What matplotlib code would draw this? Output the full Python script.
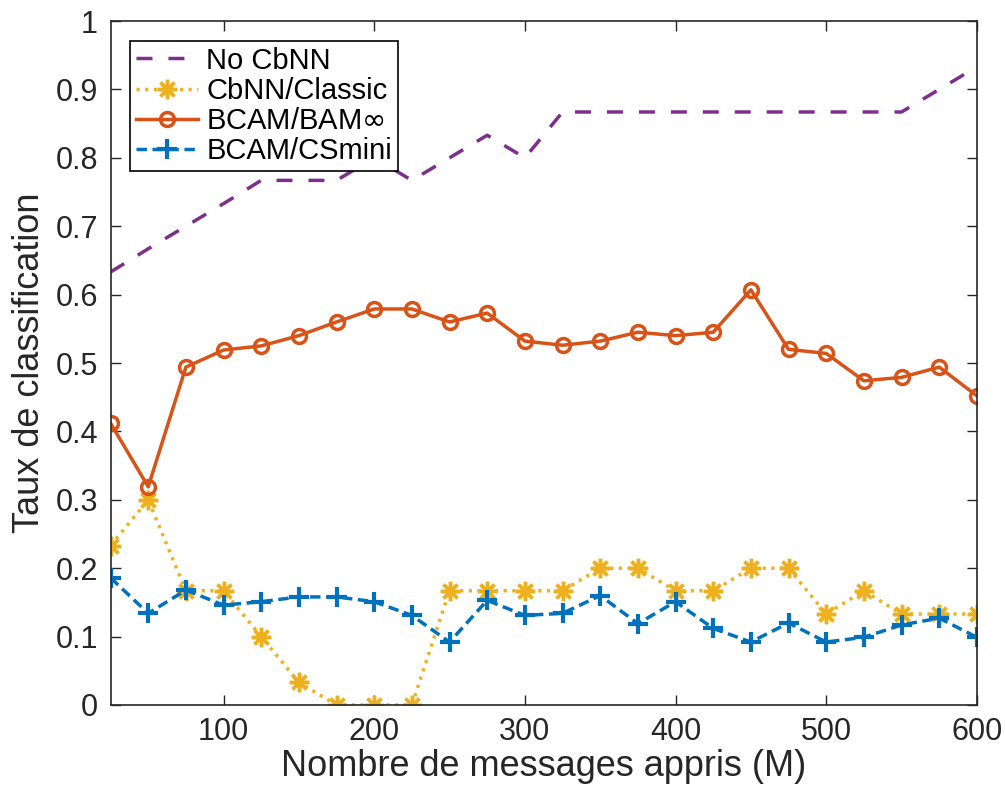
import numpy as np
import matplotlib
matplotlib.use('Agg')
import matplotlib.pyplot as plt

plt.rcParams['font.family'] = ['Liberation Sans', 'DejaVu Sans']
plt.rcParams['mathtext.fontset'] = 'dejavusans'

# data
messages = [25, 50, 75, 100, 125, 150, 175, 200, 225, 250, 275, 300,
            325, 350, 375, 400, 425, 450, 475, 500, 525, 550, 575, 600]
no_cbnn = [0.633, 0.667, 0.700, 0.733, 0.767, 0.767, 0.767, 0.800, 0.767, 0.800, 0.833, 0.800,
           0.867, 0.867, 0.867, 0.867, 0.867, 0.867, 0.867, 0.867, 0.867, 0.867, 0.900, 0.933]
cbnn_classic = [0.233, 0.300, 0.167, 0.167, 0.100, 0.033, 0.0, 0.0, 0.0, 0.167, 0.167, 0.167,
                0.167, 0.200, 0.200, 0.167, 0.167, 0.200, 0.200, 0.133, 0.167, 0.133, 0.133, 0.133]
bcam_bam = [0.412, 0.319, 0.494, 0.519, 0.525, 0.540, 0.560, 0.579, 0.579, 0.560, 0.573, 0.532,
            0.526, 0.532, 0.545, 0.540, 0.545, 0.607, 0.520, 0.514, 0.474, 0.479, 0.494, 0.452]
bcam_csmini = [0.186, 0.134, 0.168, 0.146, 0.151, 0.158, 0.158, 0.151, 0.131, 0.092, 0.153, 0.131,
               0.134, 0.160, 0.119, 0.151, 0.112, 0.092, 0.120, 0.092, 0.099, 0.117, 0.127, 0.099]

labels = ['No CbNN', 'CbNN/Classic', r'BCAM/BAM$\infty$', 'BCAM/CSmini']
colors = ['#7E2F8E', '#EDB120', '#D95319', '#0072BD']
xticks = [100, 200, 300, 400, 500, 600]
yticks = np.arange(0, 1.01, 0.1)
yticklabels = ['0', '0.1', '0.2', '0.3', '0.4', '0.5', '0.6', '0.7', '0.8', '0.9', '1']

fig = plt.figure(figsize=(10.05, 7.9), dpi=100)
ax = fig.add_axes([0.110, 0.1076, 0.862, 0.8658])

lw = 2.5
ax.plot(messages, no_cbnn, color=colors[0], lw=lw, dashes=(4.6, 4.6), label=labels[0])
ax.plot(messages, cbnn_classic, color=colors[1], lw=lw, dashes=(0.9, 1.6),
        marker=(8, 2, 0), markersize=14, markeredgewidth=2.5, label=labels[1])
ax.plot(messages, bcam_bam, color=colors[2], lw=lw, marker='o', markersize=10,
        markerfacecolor='none', markeredgewidth=2.5, label=labels[2])
ax.plot(messages, bcam_csmini, color=colors[3], lw=lw, dashes=(3.0, 1.6),
        marker='+', markersize=15, markeredgewidth=3, label=labels[3])

ax.set_xlim(25, 600)
ax.set_ylim(0, 1)
ax.set_xticks(xticks)
ax.set_xticklabels([str(t) for t in xticks])
ax.set_yticks(yticks)
ax.set_yticklabels(yticklabels)
ax.tick_params(direction='in', length=7, width=1, labelsize=22, colors='#262626',
               top=True, right=True)
ax.tick_params(axis='y', pad=9)
ax.tick_params(axis='x', pad=9)
for s in ax.spines.values():
    s.set_color('#262626')
    s.set_linewidth(1.2)

ax.set_xlabel('Nombre de messages appris (M)', fontsize=26, color='#262626', labelpad=1)
ax.set_ylabel('Taux de classification', fontsize=26, color='#262626', labelpad=6)

leg = ax.legend(loc='upper left', bbox_to_anchor=(0.023, 0.971), borderaxespad=0,
                fontsize=21, fancybox=False, edgecolor='black', framealpha=1,
                handlelength=2.1, handletextpad=0.3, labelspacing=0.07,
                borderpad=0.2, markerscale=1.0)
leg.get_frame().set_linewidth(1.2)

fig.savefig('out.png', dpi=100)
